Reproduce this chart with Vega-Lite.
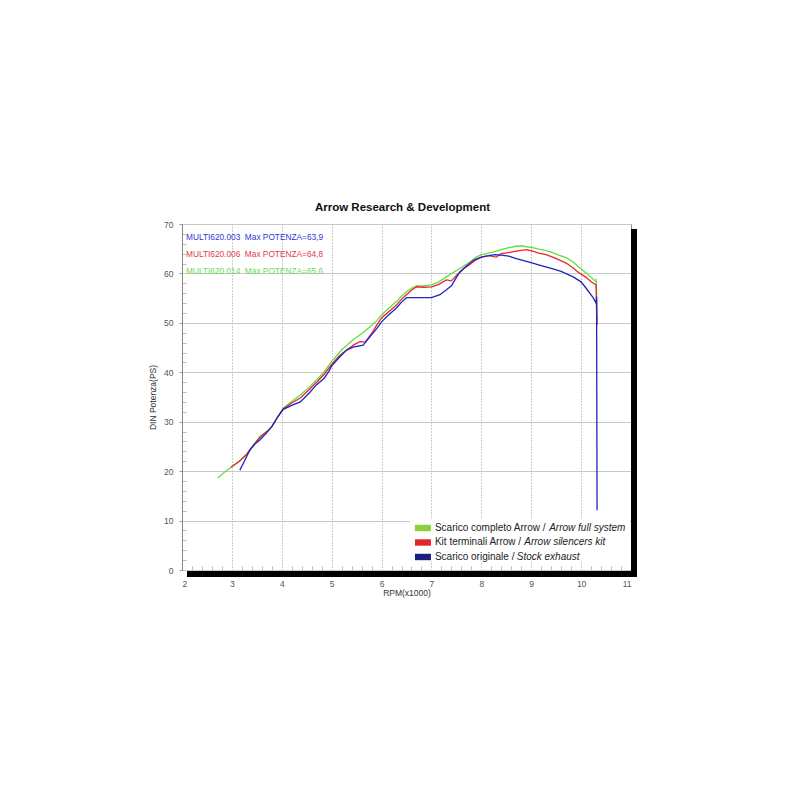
{
  "$schema": "https://vega.github.io/schema/vega-lite/v6.json",
  "autosize": "none",
  "width": 449,
  "height": 346,
  "padding": {"left": 182, "top": 224, "right": 169, "bottom": 230},
  "background": "white",
  "title": {"text": "Arrow Research & Development", "font": "Liberation Sans", "fontSize": 11.5, "fontWeight": "bold", "color": "#111", "offset": 7, "dx": -4},
  "config": {
    "view": {"stroke": "#888", "strokeWidth": 1},
    "font": "Liberation Sans"
  },
  "resolve": {"axis": {"x": "independent", "y": "independent"}},
  "datasets": {
    "curves": [
      {"series": "full", "rpm": 2.72, "ps": 18.6}, {"series": "full", "rpm": 2.85, "ps": 19.8}, {"series": "full", "rpm": 3.0, "ps": 20.9},
      {"series": "full", "rpm": 3.15, "ps": 22.0}, {"series": "full", "rpm": 3.3, "ps": 23.3}, {"series": "full", "rpm": 3.45, "ps": 25.3},
      {"series": "full", "rpm": 3.56, "ps": 27.0}, {"series": "full", "rpm": 3.7, "ps": 28.0}, {"series": "full", "rpm": 3.8, "ps": 29.0},
      {"series": "full", "rpm": 3.92, "ps": 31.0}, {"series": "full", "rpm": 4.03, "ps": 32.8}, {"series": "full", "rpm": 4.2, "ps": 34.1},
      {"series": "full", "rpm": 4.37, "ps": 35.4}, {"series": "full", "rpm": 4.55, "ps": 37.0}, {"series": "full", "rpm": 4.7, "ps": 38.5},
      {"series": "full", "rpm": 4.85, "ps": 40.1}, {"series": "full", "rpm": 5.0, "ps": 42.2}, {"series": "full", "rpm": 5.2, "ps": 44.5},
      {"series": "full", "rpm": 5.43, "ps": 46.6}, {"series": "full", "rpm": 5.6, "ps": 47.8}, {"series": "full", "rpm": 5.77, "ps": 49.2},
      {"series": "full", "rpm": 5.9, "ps": 50.4}, {"series": "full", "rpm": 6.0, "ps": 51.6}, {"series": "full", "rpm": 6.15, "ps": 53.0},
      {"series": "full", "rpm": 6.3, "ps": 54.3}, {"series": "full", "rpm": 6.4, "ps": 55.4}, {"series": "full", "rpm": 6.5, "ps": 56.3},
      {"series": "full", "rpm": 6.6, "ps": 57.0}, {"series": "full", "rpm": 6.7, "ps": 57.5}, {"series": "full", "rpm": 6.85, "ps": 57.5},
      {"series": "full", "rpm": 7.0, "ps": 57.7}, {"series": "full", "rpm": 7.15, "ps": 58.3}, {"series": "full", "rpm": 7.3, "ps": 59.3},
      {"series": "full", "rpm": 7.45, "ps": 60.3}, {"series": "full", "rpm": 7.6, "ps": 61.2}, {"series": "full", "rpm": 7.77, "ps": 62.3},
      {"series": "full", "rpm": 7.9, "ps": 63.3}, {"series": "full", "rpm": 8.0, "ps": 63.8}, {"series": "full", "rpm": 8.1, "ps": 64.0},
      {"series": "full", "rpm": 8.23, "ps": 64.3}, {"series": "full", "rpm": 8.4, "ps": 64.8}, {"series": "full", "rpm": 8.55, "ps": 65.2},
      {"series": "full", "rpm": 8.7, "ps": 65.5}, {"series": "full", "rpm": 8.8, "ps": 65.6}, {"series": "full", "rpm": 8.9, "ps": 65.4},
      {"series": "full", "rpm": 9.03, "ps": 65.2}, {"series": "full", "rpm": 9.15, "ps": 64.9}, {"series": "full", "rpm": 9.3, "ps": 64.6},
      {"series": "full", "rpm": 9.43, "ps": 64.2}, {"series": "full", "rpm": 9.55, "ps": 63.7}, {"series": "full", "rpm": 9.7, "ps": 63.2},
      {"series": "full", "rpm": 9.84, "ps": 62.3}, {"series": "full", "rpm": 9.95, "ps": 61.3}, {"series": "full", "rpm": 10.1, "ps": 60.1},
      {"series": "full", "rpm": 10.2, "ps": 59.2}, {"series": "full", "rpm": 10.28, "ps": 58.5}, {"series": "full", "rpm": 10.3, "ps": 58.7},
      {"series": "full", "rpm": 10.31, "ps": 56.0}, {"series": "full", "rpm": 10.32, "ps": 50.6},

      {"series": "silencers", "rpm": 2.98, "ps": 20.8}, {"series": "silencers", "rpm": 3.15, "ps": 22.0}, {"series": "silencers", "rpm": 3.3, "ps": 23.5},
      {"series": "silencers", "rpm": 3.45, "ps": 25.5}, {"series": "silencers", "rpm": 3.56, "ps": 26.8}, {"series": "silencers", "rpm": 3.7, "ps": 28.0},
      {"series": "silencers", "rpm": 3.8, "ps": 29.0}, {"series": "silencers", "rpm": 3.92, "ps": 31.0}, {"series": "silencers", "rpm": 4.03, "ps": 32.6},
      {"series": "silencers", "rpm": 4.2, "ps": 33.8}, {"series": "silencers", "rpm": 4.37, "ps": 34.8}, {"series": "silencers", "rpm": 4.55, "ps": 36.5},
      {"series": "silencers", "rpm": 4.7, "ps": 38.0}, {"series": "silencers", "rpm": 4.85, "ps": 39.6}, {"series": "silencers", "rpm": 5.0, "ps": 41.6},
      {"series": "silencers", "rpm": 5.15, "ps": 43.3}, {"series": "silencers", "rpm": 5.3, "ps": 44.5}, {"series": "silencers", "rpm": 5.45, "ps": 45.6},
      {"series": "silencers", "rpm": 5.57, "ps": 46.2}, {"series": "silencers", "rpm": 5.67, "ps": 46.1}, {"series": "silencers", "rpm": 5.8, "ps": 47.8},
      {"series": "silencers", "rpm": 5.9, "ps": 49.5}, {"series": "silencers", "rpm": 6.0, "ps": 51.0}, {"series": "silencers", "rpm": 6.15, "ps": 52.3},
      {"series": "silencers", "rpm": 6.3, "ps": 53.6}, {"series": "silencers", "rpm": 6.4, "ps": 54.8}, {"series": "silencers", "rpm": 6.5, "ps": 55.7},
      {"series": "silencers", "rpm": 6.6, "ps": 56.6}, {"series": "silencers", "rpm": 6.7, "ps": 57.3}, {"series": "silencers", "rpm": 6.85, "ps": 57.2},
      {"series": "silencers", "rpm": 7.0, "ps": 57.3}, {"series": "silencers", "rpm": 7.15, "ps": 57.8}, {"series": "silencers", "rpm": 7.3, "ps": 58.7},
      {"series": "silencers", "rpm": 7.4, "ps": 58.5}, {"series": "silencers", "rpm": 7.5, "ps": 59.6}, {"series": "silencers", "rpm": 7.65, "ps": 61.0},
      {"series": "silencers", "rpm": 7.77, "ps": 61.8}, {"series": "silencers", "rpm": 7.9, "ps": 62.8}, {"series": "silencers", "rpm": 8.0, "ps": 63.3},
      {"series": "silencers", "rpm": 8.15, "ps": 63.6}, {"series": "silencers", "rpm": 8.3, "ps": 63.3}, {"series": "silencers", "rpm": 8.4, "ps": 64.0},
      {"series": "silencers", "rpm": 8.55, "ps": 64.2}, {"series": "silencers", "rpm": 8.7, "ps": 64.5}, {"series": "silencers", "rpm": 8.9, "ps": 64.8},
      {"series": "silencers", "rpm": 9.03, "ps": 64.5}, {"series": "silencers", "rpm": 9.15, "ps": 64.1}, {"series": "silencers", "rpm": 9.3, "ps": 63.8},
      {"series": "silencers", "rpm": 9.43, "ps": 63.3}, {"series": "silencers", "rpm": 9.55, "ps": 62.8}, {"series": "silencers", "rpm": 9.7, "ps": 62.1},
      {"series": "silencers", "rpm": 9.84, "ps": 61.1}, {"series": "silencers", "rpm": 9.95, "ps": 60.2}, {"series": "silencers", "rpm": 10.1, "ps": 59.2},
      {"series": "silencers", "rpm": 10.2, "ps": 58.3}, {"series": "silencers", "rpm": 10.3, "ps": 57.7}, {"series": "silencers", "rpm": 10.31, "ps": 53.0},
      {"series": "silencers", "rpm": 10.32, "ps": 49.5},

      {"series": "stock", "rpm": 3.16, "ps": 20.2}, {"series": "stock", "rpm": 3.25, "ps": 22.0}, {"series": "stock", "rpm": 3.36, "ps": 24.3},
      {"series": "stock", "rpm": 3.46, "ps": 25.5}, {"series": "stock", "rpm": 3.56, "ps": 26.3}, {"series": "stock", "rpm": 3.7, "ps": 27.8},
      {"series": "stock", "rpm": 3.8, "ps": 29.0}, {"series": "stock", "rpm": 3.92, "ps": 31.0}, {"series": "stock", "rpm": 4.03, "ps": 32.5},
      {"series": "stock", "rpm": 4.2, "ps": 33.3}, {"series": "stock", "rpm": 4.37, "ps": 34.0}, {"series": "stock", "rpm": 4.55, "ps": 35.8},
      {"series": "stock", "rpm": 4.7, "ps": 37.5}, {"series": "stock", "rpm": 4.85, "ps": 38.8}, {"series": "stock", "rpm": 4.95, "ps": 40.3},
      {"series": "stock", "rpm": 5.0, "ps": 41.3}, {"series": "stock", "rpm": 5.15, "ps": 43.0}, {"series": "stock", "rpm": 5.3, "ps": 44.5},
      {"series": "stock", "rpm": 5.43, "ps": 45.1}, {"series": "stock", "rpm": 5.63, "ps": 45.5}, {"series": "stock", "rpm": 5.77, "ps": 47.2},
      {"series": "stock", "rpm": 5.9, "ps": 48.8}, {"series": "stock", "rpm": 6.0, "ps": 50.2}, {"series": "stock", "rpm": 6.15, "ps": 51.7},
      {"series": "stock", "rpm": 6.3, "ps": 53.0}, {"series": "stock", "rpm": 6.4, "ps": 54.2}, {"series": "stock", "rpm": 6.5, "ps": 55.1},
      {"series": "stock", "rpm": 6.7, "ps": 55.1}, {"series": "stock", "rpm": 7.0, "ps": 55.1}, {"series": "stock", "rpm": 7.17, "ps": 55.7},
      {"series": "stock", "rpm": 7.3, "ps": 56.7}, {"series": "stock", "rpm": 7.4, "ps": 57.5}, {"series": "stock", "rpm": 7.5, "ps": 59.2},
      {"series": "stock", "rpm": 7.57, "ps": 60.3}, {"series": "stock", "rpm": 7.7, "ps": 61.5}, {"series": "stock", "rpm": 7.85, "ps": 62.7},
      {"series": "stock", "rpm": 8.0, "ps": 63.3}, {"series": "stock", "rpm": 8.15, "ps": 63.6}, {"series": "stock", "rpm": 8.27, "ps": 63.8},
      {"series": "stock", "rpm": 8.4, "ps": 63.7}, {"series": "stock", "rpm": 8.55, "ps": 63.5}, {"series": "stock", "rpm": 8.7, "ps": 63.0},
      {"series": "stock", "rpm": 8.85, "ps": 62.6}, {"series": "stock", "rpm": 9.03, "ps": 62.1}, {"series": "stock", "rpm": 9.2, "ps": 61.6},
      {"series": "stock", "rpm": 9.4, "ps": 61.0}, {"series": "stock", "rpm": 9.6, "ps": 60.4}, {"series": "stock", "rpm": 9.84, "ps": 59.3},
      {"series": "stock", "rpm": 10.0, "ps": 58.3}, {"series": "stock", "rpm": 10.1, "ps": 57.0}, {"series": "stock", "rpm": 10.24, "ps": 55.1},
      {"series": "stock", "rpm": 10.3, "ps": 54.0}, {"series": "stock", "rpm": 10.31, "ps": 55.3}, {"series": "stock", "rpm": 10.32, "ps": 12.1}
    ],
    "legendRows": [
      {"series": "full", "regular": "Scarico completo Arrow /", "italic": "Arrow full system"},
      {"series": "silencers", "regular": "Kit terminali Arrow /", "italic": "Arrow silencers kit"},
      {"series": "stock", "regular": "Scarico originale /", "italic": "Stock exhaust"}
    ]
  },
  "layer": [
    {
      "data": {"name": "curves"},
      "mark": {"type": "line", "strokeOpacity": 0},
      "encoding": {
        "x": {"field": "rpm", "type": "quantitative",
              "scale": {"domain": [2, 11], "nice": false, "zero": false},
              "axis": {"orient": "bottom", "values": [2.2, 2.4, 2.6, 2.8, 3.2, 3.4, 3.6, 3.8, 4.2, 4.4, 4.6, 4.8, 5.2, 5.4, 5.6, 5.8, 6.2, 6.4, 6.6, 6.8, 7.2, 7.4, 7.6, 7.8, 8.2, 8.4, 8.6, 8.8, 9.2, 9.4, 9.6, 9.8, 10.2, 10.4, 10.6, 10.8],
                       "title": null, "labels": false, "domain": false, "grid": false, "tickSize": -4, "tickColor": "#bbb", "ticks": true}},
        "y": {"field": "ps", "type": "quantitative",
              "scale": {"domain": [0, 70], "nice": false},
              "axis": {"orient": "left", "values": [2, 4, 6, 8, 12, 14, 16, 18, 22, 24, 26, 28, 32, 34, 36, 38, 42, 44, 46, 48, 52, 54, 56, 58, 62, 64, 66, 68],
                       "title": null, "labels": false, "domain": false, "grid": false, "tickSize": -4, "tickColor": "#bbb", "ticks": true}}
      }
    },
    {
      "data": {"name": "curves"},
      "mark": {"type": "line", "strokeWidth": 1.3},
      "encoding": {
        "x": {"field": "rpm", "type": "quantitative",
              "scale": {"domain": [2, 11], "nice": false, "zero": false},
              "axis": {"orient": "bottom", "values": [2, 3, 4, 5, 6, 7, 8, 9, 10, 11], "title": "RPM(x1000)", "titleFontSize": 8.5, "titleFontWeight": "normal", "titleColor": "#333", "titlePadding": 1,
                       "labelFontSize": 8.5, "labelColor": "#555", "labelPadding": 9, "tickSize": 0, "domain": false,
                       "grid": true, "gridColor": "#999", "gridDash": [1, 2], "gridWidth": 1}},
        "y": {"field": "ps", "type": "quantitative",
              "scale": {"domain": [0, 70], "nice": false},
              "axis": {"orient": "left", "values": [0, 10, 20, 30, 40, 50, 60, 70], "title": "DIN Potenza(PS)", "titleFontSize": 8.5, "titleFontWeight": "normal", "titleColor": "#333", "titlePadding": 6,
                       "labelFontSize": 8.5, "labelColor": "#555", "labelPadding": 6, "tickSize": 3, "tickColor": "#999", "domain": true, "domainColor": "#888",
                       "grid": true, "gridColor": "#c8c8c8", "gridWidth": 1}},
        "color": {"field": "series", "type": "nominal",
                  "scale": {"domain": ["full", "silencers", "stock"], "range": ["#5fe03a", "#e8242c", "#2222c4"]},
                  "legend": null}
      }
    },
    {
      "data": {"values": [{}]},
      "mark": {"type": "rect", "fill": "white"},
      "encoding": {"x": {"datum": 6.57, "axis": null}, "x2": {"datum": 10.98}, "y": {"datum": 10.3, "axis": null}, "y2": {"datum": 1.8}}
    },
    {
      "data": {"name": "legendRows"},
      "mark": {"type": "point", "shape": "M-1,-0.4H1V0.4H-1Z", "filled": true, "size": 256, "opacity": 1},
      "encoding": {
        "x": {"datum": 6.83, "axis": null},
        "y": {"datum": 8.5, "axis": null},
        "yOffset": {"field": "series", "type": "nominal", "scale": {"type": "point", "domain": ["full", "silencers", "stock"], "range": [0, 29], "padding": 0}},
        "fill": {"field": "series", "type": "nominal", "scale": {"domain": ["full", "silencers", "stock"], "range": ["#8ad13c", "#e3262c", "#1e1e7e"]}, "legend": null}
      }
    },
    {
      "data": {"name": "legendRows"},
      "mark": {"type": "text", "align": "left", "baseline": "middle", "fontSize": 10, "color": "#222"},
      "encoding": {
        "x": {"datum": 7.07, "axis": null},
        "y": {"datum": 8.5, "axis": null},
        "yOffset": {"field": "series", "type": "nominal", "scale": {"type": "point", "domain": ["full", "silencers", "stock"], "range": [0, 29], "padding": 0}},
        "text": {"field": "regular"}
      }
    },
    {
      "data": {"values": [{}]},
      "mark": {"type": "text", "align": "left", "baseline": "middle", "fontSize": 10, "fontStyle": "italic", "color": "#222"},
      "encoding": {"x": {"datum": 9.36, "axis": null}, "y": {"datum": 8.5, "axis": null}, "text": {"value": "Arrow full system"}}
    },
    {
      "data": {"values": [{}]},
      "mark": {"type": "text", "align": "left", "baseline": "middle", "fontSize": 10, "fontStyle": "italic", "color": "#222"},
      "encoding": {"x": {"datum": 8.86, "axis": null}, "y": {"datum": 5.57, "axis": null}, "text": {"value": "Arrow silencers kit"}}
    },
    {
      "data": {"values": [{}]},
      "mark": {"type": "text", "align": "left", "baseline": "middle", "fontSize": 10, "fontStyle": "italic", "color": "#222"},
      "encoding": {"x": {"datum": 8.71, "axis": null}, "y": {"datum": 2.63, "axis": null}, "text": {"value": "Stock exhaust"}}
    },
    {
      "data": {"values": [{}]},
      "mark": {"type": "text", "align": "left", "baseline": "middle", "fontSize": 8.3, "color": "#3535d5"},
      "encoding": {"x": {"datum": 2.08, "axis": null}, "y": {"datum": 67.2, "axis": null}, "text": {"value": "MULTI620.003 \u00a0Max POTENZA=63,9"}}
    },
    {
      "data": {"values": [{}]},
      "mark": {"type": "text", "align": "left", "baseline": "middle", "fontSize": 8.3, "color": "#e23a48"},
      "encoding": {"x": {"datum": 2.08, "axis": null}, "y": {"datum": 63.8, "axis": null}, "text": {"value": "MULTI620.006 \u00a0Max POTENZA=64,8"}}
    },
    {
      "data": {"values": [{}]},
      "mark": {"type": "text", "align": "left", "baseline": "middle", "fontSize": 8.3, "color": "#66dd55"},
      "encoding": {"x": {"datum": 2.08, "axis": null}, "y": {"datum": 60.3, "axis": null}, "text": {"value": "MULTI620.014 \u00a0Max POTENZA=65,6"}}
    },
    {
      "data": {"values": [{}]},
      "mark": {"type": "rule", "color": "black", "strokeWidth": 6, "xOffset": 3, "yOffset": 5, "y2Offset": 7},
      "encoding": {"x": {"datum": 11, "axis": null}, "y": {"datum": 70, "axis": null}, "y2": {"datum": 0}}
    },
    {
      "data": {"values": [{}]},
      "mark": {"type": "rule", "color": "black", "strokeWidth": 6, "yOffset": 4, "xOffset": 5, "x2Offset": 6},
      "encoding": {"y": {"datum": 0, "axis": null}, "x": {"datum": 2, "axis": null}, "x2": {"datum": 11}}
    }
  ]
}
